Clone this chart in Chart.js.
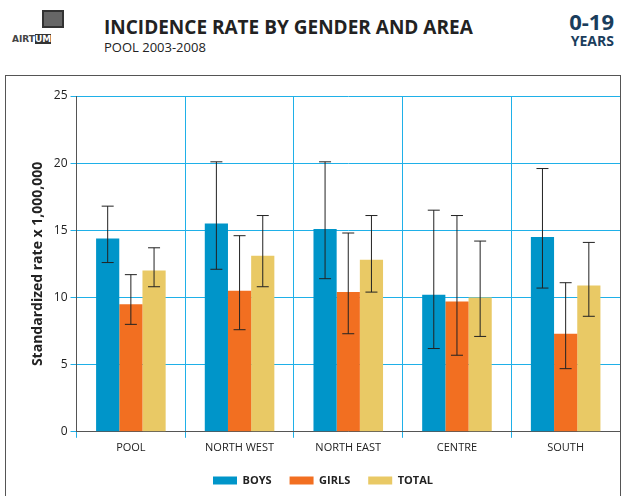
<!DOCTYPE html>
<html><head><meta charset="utf-8">
<script src="https://cdn.jsdelivr.net/npm/chart.js@4"></script>
<style>
body{margin:0;width:622px;height:496px;background:#fff;font-family:"Open Sans",sans-serif;position:relative;overflow:hidden}
#logo{position:absolute;left:8px;top:8px;width:58px;height:40px;font:bold 9px "DejaVu Sans";color:#444}
#title{position:absolute;left:104px;top:14px;font-weight:bold;font-size:19px;color:#222}
#sub{position:absolute;left:104px;top:38px;font-size:13px;color:#222}
#yrs{position:absolute;right:8px;top:10px;text-align:right;color:#1a3d5c;font-weight:bold;line-height:1}
#box{position:absolute;left:5px;top:75px;width:614px;height:430px;border:1px solid #555}
</style></head><body>
<div id="logo"><div style="position:absolute;left:34px;top:2px;width:18px;height:14px;border:2px solid #333;background:#666"></div><div style="position:absolute;left:4px;top:26px">AIRT<span style="background:#333;color:#fff">UM</span></div></div>
<div id="title">INCIDENCE RATE BY GENDER AND AREA</div>
<div id="sub">POOL 2003-2008</div>
<div id="yrs"><span style="font-size:22px">0-19</span><br><span style="font-size:14px">YEARS</span></div>
<div id="box"><canvas id="c" width="614" height="420"></canvas></div>
<script>
const categories = ["POOL", "NORTH WEST", "NORTH EAST", "CENTRE", "SOUTH"];
const boys = [14.4, 15.5, 15.1, 10.2, 14.5];
const boysLow = [12.6, 12.1, 11.4, 6.2, 10.7];
const boysHigh = [16.8, 20.1, 20.1, 16.5, 19.6];
const girls = [9.5, 10.5, 10.4, 9.7, 7.3];
const girlsLow = [8.0, 7.6, 7.3, 5.7, 4.7];
const girlsHigh = [11.7, 14.6, 14.8, 16.1, 11.1];
const total = [12.0, 13.1, 12.8, 10.0, 10.9];
const totalLow = [10.8, 10.8, 10.4, 7.1, 8.6];
const totalHigh = [13.7, 16.1, 16.1, 14.2, 14.1];

const errorBars = {
  id: 'errorBars',
  afterDatasetsDraw(chart) {
    const ctx = chart.ctx, y = chart.scales.y;
    chart.data.datasets.forEach((ds, i) => {
      chart.getDatasetMeta(i).data.forEach((bar, j) => {
        const lo = y.getPixelForValue(ds.low[j]), hi = y.getPixelForValue(ds.high[j]);
        ctx.save();
        ctx.strokeStyle = '#222'; ctx.lineWidth = 1;
        ctx.beginPath();
        ctx.moveTo(bar.x, lo); ctx.lineTo(bar.x, hi);
        ctx.moveTo(bar.x - 6, lo); ctx.lineTo(bar.x + 6, lo);
        ctx.moveTo(bar.x - 6, hi); ctx.lineTo(bar.x + 6, hi);
        ctx.stroke();
        ctx.restore();
      });
    });
  }
};

new Chart(document.getElementById('c'), {
  type: 'bar',
  data: {
    labels: categories,
    datasets: [
      {label: 'BOYS', data: boys, low: boysLow, high: boysHigh, backgroundColor: '#0095c9'},
      {label: 'GIRLS', data: girls, low: girlsLow, high: girlsHigh, backgroundColor: '#f26f21'},
      {label: 'TOTAL', data: total, low: totalLow, high: totalHigh, backgroundColor: '#e9c965'}
    ]
  },
  options: {
    responsive: false,
    animation: false,
    layout: {padding: {top: 20, right: 0, left: 20, bottom: 0}},
    categoryPercentage: 0.64,
    barPercentage: 1.0,
    plugins: {
      legend: {position: 'bottom', labels: {boxWidth: 24, boxHeight: 8, padding: 18, color: '#222', font: {family: 'Open Sans', size: 11, weight: 'bold'}}},
      tooltip: {enabled: false}
    },
    scales: {
      x: {grid: {color: '#1fb0e8', offset: true, drawTicks: true, tickLength: 6}, border: {color: '#555'},
          ticks: {color: '#222', font: {family: 'Open Sans', size: 11}}},
      y: {min: 0, max: 25, grid: {color: '#1fb0e8', tickLength: 6}, border: {color: '#555'},
          ticks: {stepSize: 5, color: '#222', font: {family: 'Open Sans', size: 12}},
          title: {display: true, text: 'Standardized rate x 1,000,000', color: '#222', font: {family: 'Open Sans', size: 14, weight: 'bold'}}}
    }
  },
  plugins: [errorBars]
});
</script>
</body></html>
